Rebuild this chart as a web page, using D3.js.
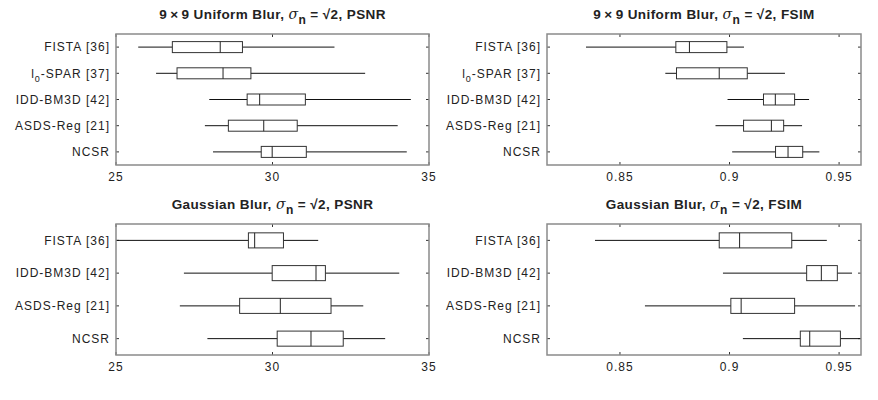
<!DOCTYPE html>
<html>
<head>
<meta charset="utf-8">
<script src="https://cdn.jsdelivr.net/npm/d3@7"></script>
<style>
  body { margin: 0; background: #fff; }
  svg { display: block; }
  text { font-family: "Liberation Sans", Arial, Helvetica, sans-serif; fill: #222; }
</style>
</head>
<body>
<svg id="chart" width="878" height="400"></svg>
<script>
// ---- Data ----
const methodsTop = ["FISTA [36]", "l0-SPAR [37]", "IDD-BM3D [42]", "ASDS-Reg [21]", "NCSR"];
const methodsBottom = ["FISTA [36]", "IDD-BM3D [42]", "ASDS-Reg [21]", "NCSR"];

// each row: [lower whisker, q1, median, q3, upper whisker]
const uniformPSNR = [
  [25.71, 26.80, 28.33, 29.04, 31.98],
  [26.28, 26.95, 28.42, 29.31, 32.96],
  [27.98, 29.19, 29.59, 31.05, 34.42],
  [27.84, 28.59, 29.72, 30.79, 34.00],
  [28.10, 29.64, 29.99, 31.08, 34.29]
];
const uniformFSIM = [
  [0.8345, 0.8755, 0.8817, 0.8988, 0.9066],
  [0.8707, 0.8758, 0.8953, 0.9081, 0.9253],
  [0.8991, 0.9155, 0.9209, 0.9297, 0.9363],
  [0.8936, 0.9064, 0.9191, 0.9247, 0.9331],
  [0.9012, 0.9210, 0.9267, 0.9334, 0.9410]
];
const gaussianPSNR = [
  [24.60, 29.23, 29.43, 30.35, 31.46],
  [27.17, 29.99, 31.39, 31.69, 34.05],
  [27.04, 28.95, 30.25, 31.87, 32.90],
  [27.92, 30.15, 31.23, 32.26, 33.60]
];
const gaussianFSIM = [
  [0.8386, 0.8953, 0.9046, 0.9284, 0.9444],
  [0.8970, 0.9352, 0.9419, 0.9492, 0.9559],
  [0.8614, 0.9006, 0.9053, 0.9297, 0.9573],
  [0.9061, 0.9323, 0.9366, 0.9506, 0.9620]
];

const psnrDomain = [25, 35];
const fsimDomain = [0.8167, 0.96];
const psnrTicks = [25, 30, 35];
const fsimTicks = [0.85, 0.9, 0.95];
const psnrTickLabels = ["25", "30", "35"];
const fsimTickLabels = ["0.85", "0.9", "0.95"];

const titles = [
  { pre: "9\u2009\u00D7\u20099 Uniform Blur, ", post: " = \u221A2, PSNR" },
  { pre: "9\u2009\u00D7\u20099 Uniform Blur, ", post: " = \u221A2, FSIM" },
  { pre: "Gaussian Blur, ", post: " = \u221A2, PSNR" },
  { pre: "Gaussian Blur, ", post: " = \u221A2, FSIM" }
];

// ---- Layout ----
const panels = [
  { x0: 116, x1: 429, y0: 34, y1: 165, cats: methodsTop, data: uniformPSNR, dom: psnrDomain, ticks: psnrTicks, tl: psnrTickLabels, title: titles[0], boxFrac: 0.42 },
  { x0: 547, x1: 861, y0: 34, y1: 165, cats: methodsTop, data: uniformFSIM, dom: fsimDomain, ticks: fsimTicks, tl: fsimTickLabels, title: titles[1], boxFrac: 0.42 },
  { x0: 116, x1: 429, y0: 224, y1: 355, cats: methodsBottom, data: gaussianPSNR, dom: psnrDomain, ticks: psnrTicks, tl: psnrTickLabels, title: titles[2], boxFrac: 0.46 },
  { x0: 547, x1: 861, y0: 224, y1: 355, cats: methodsBottom, data: gaussianFSIM, dom: fsimDomain, ticks: fsimTicks, tl: fsimTickLabels, title: titles[3], boxFrac: 0.46 }
];

const svg = d3.select("#chart");
const frameColor = "#8a8a8a";
const tickLen = 3;

panels.forEach((p, pi) => {
  const g = svg.append("g");
  const x = d3.scaleLinear().domain(p.dom).range([p.x0, p.x1]);
  const y = d3.scaleBand().domain(p.cats).range([p.y0, p.y1]).padding(0);
  const bh = y.bandwidth() * p.boxFrac;

  const clipId = "clip" + pi;
  svg.append("clipPath").attr("id", clipId)
    .append("rect").attr("x", p.x0).attr("y", p.y0).attr("width", p.x1 - p.x0).attr("height", p.y1 - p.y0);

  // ticks (inward) top & bottom
  p.ticks.forEach((t, i) => {
    const xx = x(t);
    g.append("line").attr("x1", xx).attr("x2", xx).attr("y1", p.y1).attr("y2", p.y1 - tickLen)
      .attr("stroke", "#333").attr("stroke-width", 1);
    g.append("line").attr("x1", xx).attr("x2", xx).attr("y1", p.y0).attr("y2", p.y0 + tickLen)
      .attr("stroke", "#333").attr("stroke-width", 1);
    g.append("text").attr("x", xx).attr("y", p.y1 + 16)
      .attr("text-anchor", "middle").attr("font-size", 12).attr("letter-spacing", 1)
      .text(p.tl[i]);
  });

  // category ticks & labels
  p.cats.forEach(c => {
    const yy = y(c) + y.bandwidth() / 2;
    g.append("line").attr("x1", p.x0).attr("x2", p.x0 + tickLen).attr("y1", yy).attr("y2", yy)
      .attr("stroke", "#333").attr("stroke-width", 1);
    g.append("line").attr("x1", p.x1).attr("x2", p.x1 - tickLen).attr("y1", yy).attr("y2", yy)
      .attr("stroke", "#333").attr("stroke-width", 1);
    const t = g.append("text").attr("x", p.x0 - 6).attr("y", yy + 4.3)
      .attr("text-anchor", "end").attr("font-size", 12).attr("letter-spacing", 1);
    if (c.startsWith("l0")) {
      t.append("tspan").text("l");
      t.append("tspan").attr("font-size", 9).attr("dy", 4).text("0");
      t.append("tspan").attr("dy", -4).text(c.slice(2));
    } else {
      t.text(c);
    }
  });

  // boxes
  const bg = g.append("g").attr("clip-path", `url(#${clipId})`);
  p.data.forEach((d, i) => {
    const yy = y(p.cats[i]) + y.bandwidth() / 2;
    const [lw, q1, med, q3, uw] = d;
    bg.append("line").attr("x1", x(lw)).attr("x2", x(q1)).attr("y1", yy).attr("y2", yy)
      .attr("stroke", "#111").attr("stroke-width", 1);
    bg.append("line").attr("x1", x(q3)).attr("x2", x(uw)).attr("y1", yy).attr("y2", yy)
      .attr("stroke", "#111").attr("stroke-width", 1);
    bg.append("rect").attr("x", x(q1)).attr("y", yy - bh / 2)
      .attr("width", x(q3) - x(q1)).attr("height", bh)
      .attr("fill", "none").attr("stroke", "#333").attr("stroke-width", 1);
    bg.append("line").attr("x1", x(med)).attr("x2", x(med)).attr("y1", yy - bh / 2).attr("y2", yy + bh / 2)
      .attr("stroke", "#222").attr("stroke-width", 1);
  });

  // frame
  g.append("rect").attr("x", p.x0).attr("y", p.y0).attr("width", p.x1 - p.x0).attr("height", p.y1 - p.y0)
    .attr("fill", "none").attr("stroke", frameColor).attr("stroke-width", 1.5);

  // title
  const cx = (p.x0 + p.x1) / 2;
  const tt = g.append("text").attr("x", cx).attr("y", p.y0 - 15)
    .attr("text-anchor", "middle").attr("font-size", 13.5).attr("font-weight", "bold")
    .attr("letter-spacing", 0.4);
  tt.append("tspan").text(p.title.pre);
  tt.append("tspan").attr("font-style", "italic").attr("font-weight", "normal")
    .attr("font-family", "DejaVu Serif, serif").attr("font-size", 14).text("\u03C3");
  tt.append("tspan").attr("dy", 5).attr("font-size", 12).text("n");
  tt.append("tspan").attr("dy", -5).text(p.title.post);
});
</script>
</body>
</html>
